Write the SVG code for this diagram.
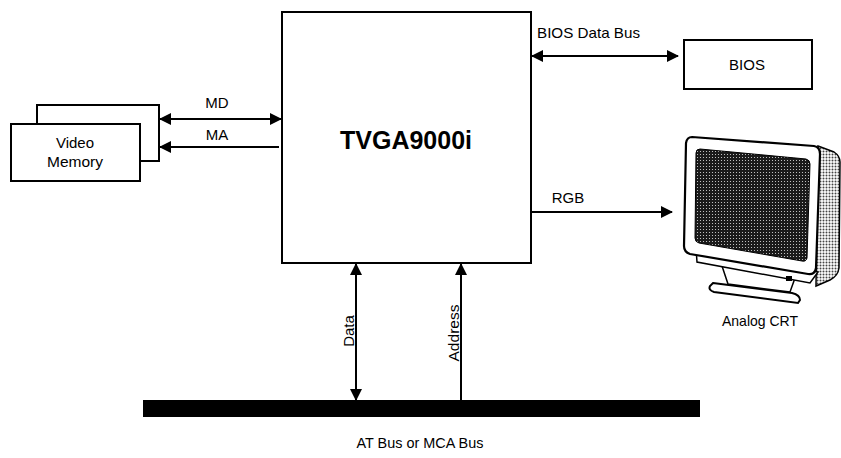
<svg xmlns="http://www.w3.org/2000/svg" width="841" height="458" viewBox="0 0 841 458">
<style>
.box{fill:#fff;stroke:#000;stroke-width:2}
.ln{stroke:#000;stroke-width:2;fill:none}
.t{font-family:"Liberation Sans",Arial,sans-serif;font-size:15px;fill:#000}
</style>
<defs>
<marker id="ah" viewBox="0 0 12 12" refX="11" refY="6" markerWidth="12" markerHeight="12" markerUnits="userSpaceOnUse" orient="auto-start-reverse">
<path d="M0,0 L12,6 L0,12 Z" fill="#000"/>
</marker>
<pattern id="dots" width="3" height="3" patternUnits="userSpaceOnUse">
<rect width="3" height="3" fill="#1a1a1a"/>
<circle cx="1.5" cy="1.5" r="0.55" fill="#ddd"/>
</pattern>
<pattern id="ldots" width="3" height="3" patternUnits="userSpaceOnUse">
<rect width="3" height="3" fill="#fff"/>
<circle cx="1.5" cy="1.5" r="1" fill="#444"/>
</pattern>
</defs>
<rect width="841" height="458" fill="#fff"/>

<g id="tvga">
<rect class="box" x="282" y="12" width="249" height="251"/>
<text x="406" y="149" text-anchor="middle" style="font-family:'Liberation Sans',Arial,sans-serif;font-size:25px;font-weight:bold">TVGA9000i</text>
</g>

<g id="video-memory">
<rect class="box" x="37" y="105" width="122" height="56"/>
<rect class="box" x="11" y="124" width="129" height="57"/>
<text class="t" x="75" y="148" text-anchor="middle">Video</text>
<text class="t" x="75" y="167" text-anchor="middle" textLength="56" lengthAdjust="spacingAndGlyphs">Memory</text>
</g>

<g id="bios">
<rect class="box" x="684" y="40" width="128" height="49"/>
<text class="t" x="747" y="70" text-anchor="middle">BIOS</text>
</g>

<g id="crt">
<path d="M818,146 L834,152 Q840,156 840,162 L839,268 Q838,276 830,280 L816,286 Z" fill="url(#ldots)" stroke="#000" stroke-width="1.5"/>
<path d="M713,283 L792,293 Q800,295 800,300 L798,303 L714,292 Q708,290 710,286 Z" fill="#fff" stroke="#000" stroke-width="2"/>
<path d="M722,266 L728,284 L790,292 L795,278 Z" fill="#fff" stroke="#000" stroke-width="1.5"/>
<path d="M696,248 L697,262 L810,283 L818,272 Z" fill="#fff" stroke="#000" stroke-width="1.5"/>
<rect x="786" y="276" width="6" height="5" fill="#000"/>
<path d="M692,137 L814,146 Q820,147 820,154 L816,268 Q815,275 808,274 L690,254 Q684,252 684,246 L686,143 Q687,137 692,137 Z" fill="#fff" stroke="#000" stroke-width="2.2"/>
<path d="M700,149 L806,159 Q810,160 810,164 L807,258 Q806,262 802,261 L699,243 Q695,242 695,238 L696,153 Q696,149 700,149 Z" fill="url(#dots)" stroke="#000" stroke-width="1"/>
<text class="t" x="760" y="326" text-anchor="middle" textLength="76" lengthAdjust="spacingAndGlyphs">Analog CRT</text>
</g>

<g id="bus">
<rect x="143" y="400" width="557" height="17" fill="#000"/>
<text class="t" x="420" y="448" text-anchor="middle" textLength="127" lengthAdjust="spacingAndGlyphs">AT Bus or MCA Bus</text>
</g>

<g id="connectors">
<line class="ln" x1="160" y1="119" x2="281" y2="119" marker-start="url(#ah)" marker-end="url(#ah)"/>
<line class="ln" x1="279" y1="147" x2="160" y2="147" marker-end="url(#ah)"/>
<line class="ln" x1="532" y1="56" x2="678" y2="56" marker-start="url(#ah)" marker-end="url(#ah)"/>
<line class="ln" x1="532" y1="212" x2="672" y2="212" marker-end="url(#ah)"/>
<line class="ln" x1="356" y1="264" x2="356" y2="400" marker-start="url(#ah)" marker-end="url(#ah)"/>
<line class="ln" x1="461" y1="400" x2="461" y2="264" marker-end="url(#ah)"/>
<text class="t" x="217" y="108" text-anchor="middle">MD</text>
<text class="t" x="217" y="140" text-anchor="middle">MA</text>
<text class="t" x="537" y="38" textLength="103" lengthAdjust="spacingAndGlyphs">BIOS Data Bus</text>
<text class="t" x="568" y="203" text-anchor="middle">RGB</text>
<text class="t" transform="translate(354,331) rotate(-90)" text-anchor="middle">Data</text>
<text class="t" transform="translate(459,333) rotate(-90)" text-anchor="middle" textLength="57" lengthAdjust="spacingAndGlyphs">Address</text>
</g>
</svg>
